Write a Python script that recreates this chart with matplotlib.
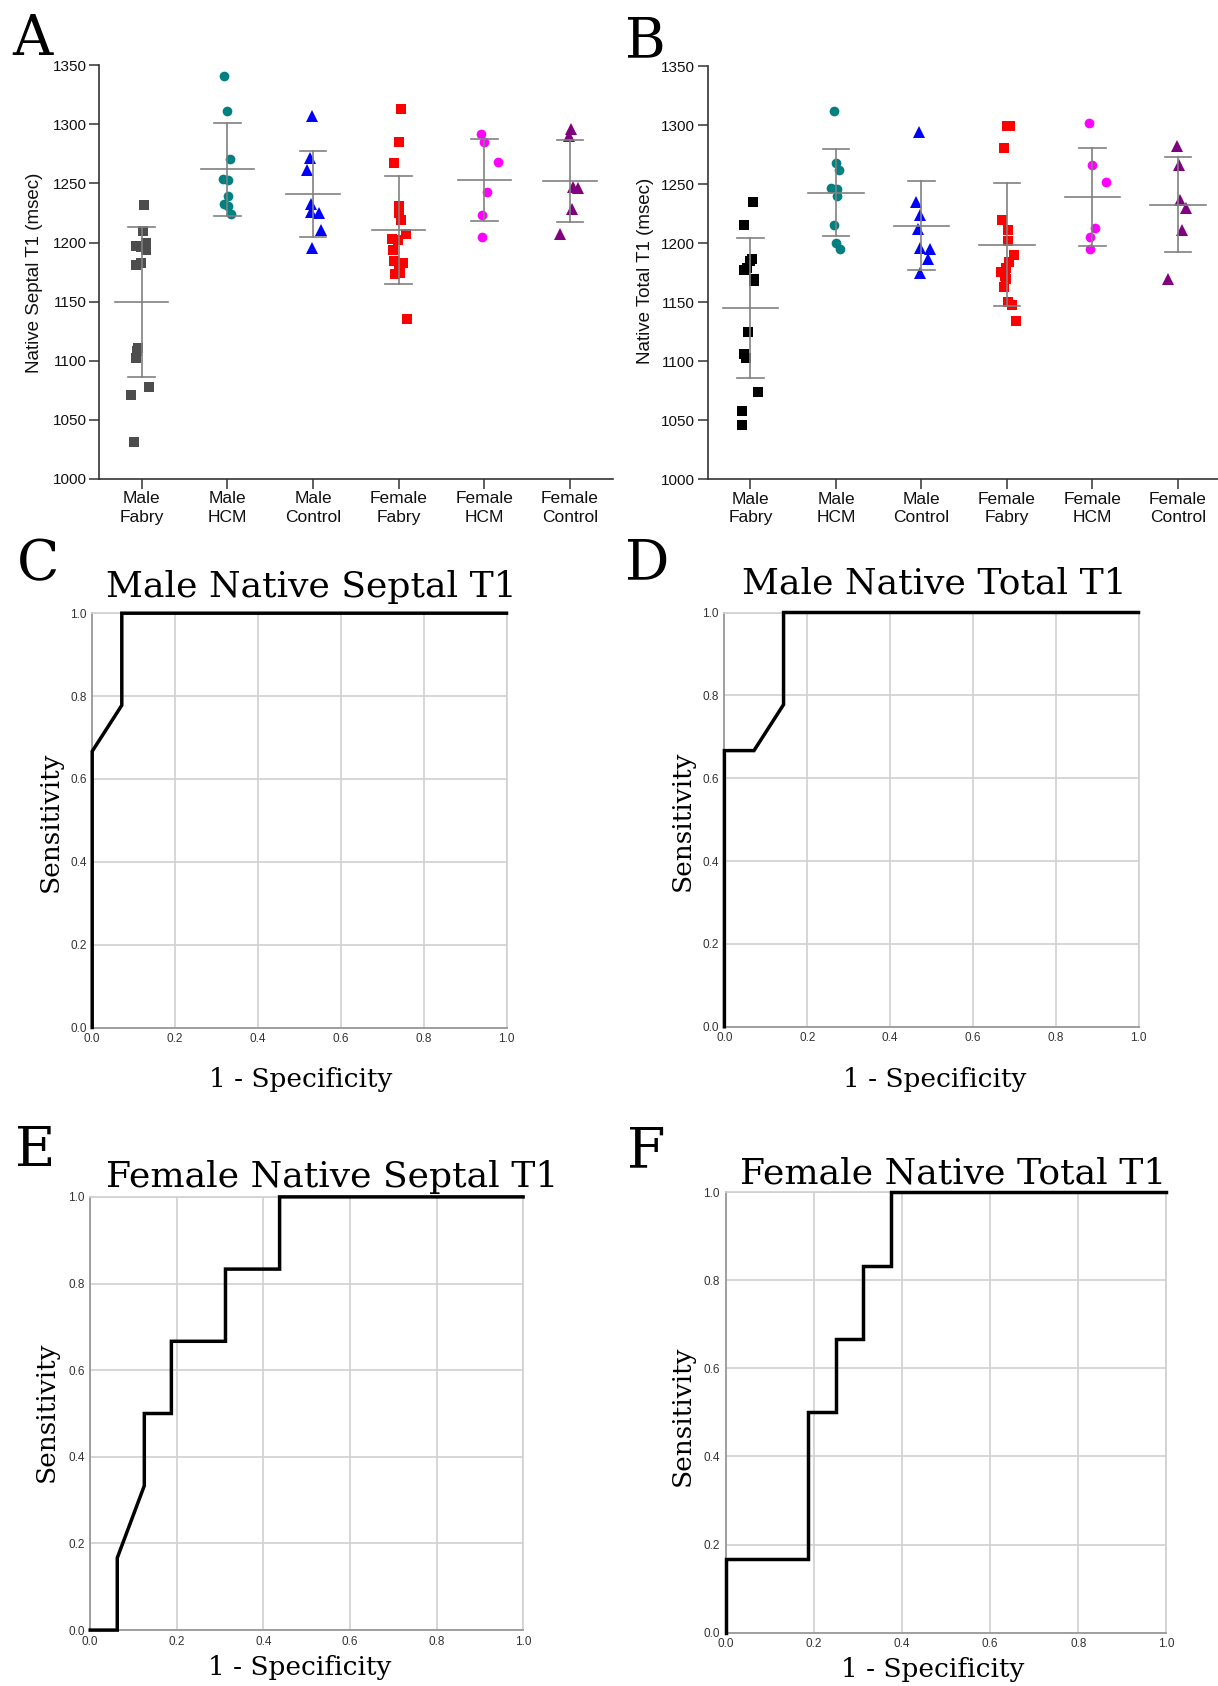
import numpy as np
import matplotlib
matplotlib.use("Agg")
import matplotlib.pyplot as plt

# ---------------- data ----------------
groups = ["Male\nFabry", "Male\nHCM", "Male\nControl", "Female\nFabry", "Female\nHCM", "Female\nControl"]

# Panel A: Native Septal T1 (msec)
septal_male_fabry = [1232, 1210, 1200, 1197, 1196, 1194, 1183, 1181, 1111, 1108, 1102, 1078, 1071, 1031]
septal_male_hcm = [1341, 1311, 1271, 1254, 1253, 1239, 1233, 1231, 1224]
septal_male_control = [1307, 1272, 1261, 1233, 1226, 1225, 1211, 1195]
septal_female_fabry = [1313, 1285, 1267, 1231, 1225, 1219, 1207, 1203, 1202, 1194, 1184, 1183, 1176, 1174, 1173, 1135]
septal_female_hcm = [1292, 1285, 1268, 1243, 1223, 1205]
septal_female_control = [1296, 1290, 1247, 1246, 1228, 1207]

# horizontal scatter offsets (category units)
jit_septal_male_fabry = [0.03, 0.01, 0.05, -0.07, -0.01, 0.05, -0.01, -0.07, -0.04, -0.06, -0.07, 0.08, -0.12, -0.09]
jit_septal_male_hcm = [-0.035, 0.0, 0.035, -0.05, 0.01, 0.01, -0.035, 0.01, 0.04]
jit_septal_male_control = [-0.01, -0.03, -0.065, -0.02, -0.02, 0.075, 0.09, -0.01]
jit_septal_female_fabry = [0.023, 0.0, -0.055, 0.0, 0.0, 0.028, 0.082, -0.077, -0.012, -0.07, -0.05, 0.047, 0.0, 0.01, -0.039, 0.094]
jit_septal_female_hcm = [-0.04, 0.0, 0.16, 0.037, -0.023, -0.028]
jit_septal_female_control = [0.014, -0.014, 0.03, 0.09, 0.023, -0.12]

# Panel B: Native Total T1 (msec)
total_male_fabry = [1235, 1215, 1187, 1185, 1179, 1177, 1170, 1168, 1125, 1106, 1103, 1074, 1058, 1046]
total_male_hcm = [1312, 1268, 1262, 1247, 1246, 1240, 1215, 1200, 1195]
total_male_control = [1294, 1235, 1224, 1212, 1196, 1195, 1187, 1175]
total_female_fabry = [1299, 1299, 1281, 1220, 1211, 1202, 1190, 1184, 1179, 1176, 1172, 1170, 1163, 1150, 1148, 1134]
total_female_hcm = [1302, 1266, 1252, 1213, 1205, 1195]
total_female_control = [1282, 1266, 1237, 1230, 1211, 1170]

jit_total_male_fabry = [0.032, -0.077, 0.018, 0.0, -0.036, -0.073, 0.04, 0.045, -0.027, -0.073, -0.05, 0.086, -0.104, -0.1]
jit_total_male_hcm = [-0.027, 0.005, 0.036, -0.054, 0.014, 0.009, -0.027, 0.005, 0.045]
jit_total_male_control = [-0.023, -0.063, -0.018, -0.036, -0.018, 0.095, 0.073, -0.018]
jit_total_female_fabry = [0.0, 0.036, -0.036, -0.054, 0.012, 0.012, 0.082, 0.023, -0.015, -0.065, -0.02, -0.015, -0.04, 0.012, 0.058, 0.105]
jit_total_female_hcm = [-0.045, 0.0, 0.16, 0.027, -0.027, -0.023]
jit_total_female_control = [-0.014, 0.018, 0.027, 0.095, 0.045, -0.113]

# ROC curves (1 - specificity, sensitivity)
roc_c_fpr = [0.0, 0.0, 1/14, 1/14, 1.0]
roc_c_tpr = [0.0, 6/9, 7/9, 1.0, 1.0]
roc_d_fpr = [0.0, 0.0, 1/14, 2/14, 2/14, 1.0]
roc_d_tpr = [0.0, 6/9, 6/9, 7/9, 1.0, 1.0]
roc_e_fpr = [0.0, 1/16, 1/16, 2/16, 2/16, 3/16, 3/16, 5/16, 5/16, 7/16, 7/16, 1.0]
roc_e_tpr = [0.0, 0.0, 1/6, 2/6, 3/6, 3/6, 4/6, 4/6, 5/6, 5/6, 1.0, 1.0]
roc_f_fpr = [0.0, 0.0, 3/16, 3/16, 4/16, 4/16, 5/16, 5/16, 6/16, 6/16, 1.0]
roc_f_tpr = [0.0, 1/6, 1/6, 3/6, 3/6, 4/6, 4/6, 5/6, 5/6, 1.0, 1.0]

roc_ticks = [0.0, 0.2, 0.4, 0.6, 0.8, 1.0]
t1_ticks = [1000, 1050, 1100, 1150, 1200, 1250, 1300, 1350]

# ---------------- figure ----------------
W, H = 1218, 1686
fig = plt.figure(figsize=(W / 100, H / 100), dpi=100)


def fx(px):
    return px / W


def fy(py):
    return 1 - py / H


SANS = "Liberation Sans"
SERIF = "DejaVu Serif"
markers = ["s", "o", "^", "s", "o", "^"]
msizes = {"s": 7.0, "o": 7.0, "^": 8.0}


def scatter_panel(rect, values, jitters, colors, xmax, mean_hw, cap_hw):
    ax = fig.add_axes(rect)
    for i, (vals, jit) in enumerate(zip(values, jitters)):
        v = np.asarray(vals, float)
        x = i + np.asarray(jit, float)
        mk = markers[i]
        ax.plot(x, v, linestyle="none", marker=mk, ms=msizes[mk], color=colors[i],
                mew=0, zorder=2, clip_on=False)
        m = v.mean()
        s = v.std(ddof=1)
        gc = "#808080"
        ax.plot([i - mean_hw, i + mean_hw], [m, m], color=gc, lw=1.2, zorder=3, clip_on=False)
        ax.plot([i, i], [m - s, m + s], color=gc, lw=1.2, zorder=3)
        ax.plot([i - cap_hw, i + cap_hw], [m + s, m + s], color=gc, lw=1.2, zorder=3)
        ax.plot([i - cap_hw, i + cap_hw], [m - s, m - s], color=gc, lw=1.2, zorder=3)
    ax.set_xlim(-0.5, xmax)
    ax.set_ylim(1000, 1350)
    ax.set_yticks(t1_ticks)
    ax.set_yticklabels([str(t) for t in t1_ticks], fontsize=11, family=SANS, color="#111111")
    ax.set_xticks(range(len(groups)))
    ax.set_xticklabels(groups, fontsize=12.5, family=SANS, color="#111111", linespacing=1.3)
    ax.tick_params(axis="both", direction="out", length=7, width=1.1, color="#333333", pad=2)
    for sp in ["top", "right"]:
        ax.spines[sp].set_visible(False)
    for sp in ["left", "bottom"]:
        ax.spines[sp].set_color("#333333")
        ax.spines[sp].set_linewidth(1.2)
    ax.set_facecolor("none")
    return ax


colors_a = ["#4d4d4d", "#008080", "#0000ff", "#ff0000", "#ff00ff", "#800080"]
colors_b = ["#000000", "#008080", "#0000ff", "#ff0000", "#ff00ff", "#800080"]

scatter_panel([fx(98.9), fy(478.7), fx(612.8 - 98.9), (478.7 - 65.4) / H],
              [septal_male_fabry, septal_male_hcm, septal_male_control,
               septal_female_fabry, septal_female_hcm, septal_female_control],
              [jit_septal_male_fabry, jit_septal_male_hcm, jit_septal_male_control,
               jit_septal_female_fabry, jit_septal_female_hcm, jit_septal_female_control],
              colors_a, 5.5, 0.31, 0.157)
fig.text(fx(35), fy(273), "Native Septal T1 (msec)", rotation=90, ha="center", va="center",
         fontsize=13.5, family=SANS, color="#111111")

scatter_panel([fx(707.7), fy(479.3), fx(1219 - 707.7), (479.3 - 66.1) / H],
              [total_male_fabry, total_male_hcm, total_male_control,
               total_female_fabry, total_female_hcm, total_female_control],
              [jit_total_male_fabry, jit_total_male_hcm, jit_total_male_control,
               jit_total_female_fabry, jit_total_female_hcm, jit_total_female_control],
              colors_b, 5.48, 0.325, 0.154)
fig.text(fx(645), fy(271), "Native Total T1 (msec)", rotation=90, ha="center", va="center",
         fontsize=13.5, family=SANS, color="#111111")


def roc_panel(left, top, right, bottom, fpr, tpr, title, title_xy, ylab_xy, xlab_xy):
    ax = fig.add_axes([fx(left), fy(bottom), fx(right - left), (bottom - top) / H])
    ax.set_xlim(0, 1)
    ax.set_ylim(0, 1)
    ax.set_xticks(roc_ticks)
    ax.set_yticks(roc_ticks)
    ax.set_xticklabels([f"{t:.1f}" for t in roc_ticks], fontsize=8.5, family=SANS, color="#333333")
    ax.set_yticklabels([f"{t:.1f}" for t in roc_ticks], fontsize=8.5, family=SANS, color="#333333")
    ax.tick_params(axis="both", length=0, pad=4)
    ax.grid(True, color="#d0d0d0", lw=1.2, zorder=0)
    ax.set_axisbelow(True)
    for sp in ["top", "right"]:
        ax.spines[sp].set_color("#d0d0d0")
        ax.spines[sp].set_linewidth(1.2)
    for sp in ["left", "bottom"]:
        ax.spines[sp].set_color("#999999")
        ax.spines[sp].set_linewidth(1.3)
    ax.plot(fpr, tpr, color="black", lw=2.5, clip_on=False, zorder=5, solid_joinstyle="miter")
    fig.text(fx(title_xy[0]), fy(title_xy[1]), title, ha="center", va="baseline",
             fontsize=26, family=SERIF, color="black")
    fig.text(fx(ylab_xy[0]), fy(ylab_xy[1]), "Sensitivity", rotation=90, ha="center", va="center",
             fontsize=19, family=SERIF, color="black")
    fig.text(fx(xlab_xy[0]), fy(xlab_xy[1]), "1 - Specificity", ha="center", va="center",
             fontsize=19, family=SERIF, color="black")
    return ax


roc_panel(92.2, 613.2, 506.5, 1027.5, roc_c_fpr, roc_c_tpr, "Male Native Septal T1",
          (311, 597), (50, 822), (300.5, 1079))
roc_panel(724.4, 612.5, 1138.5, 1026.8, roc_d_fpr, roc_d_tpr, "Male Native Total T1",
          (934, 593.6), (682, 821), (935, 1080))
roc_panel(90.2, 1196.9, 523.1, 1630.1, roc_e_fpr, roc_e_tpr, "Female Native Septal T1",
          (332, 1186.8), (46.5, 1412), (299.5, 1668))
roc_panel(725.5, 1192.2, 1166.4, 1632.6, roc_f_fpr, roc_f_tpr, "Female Native Total T1",
          (953, 1183.2), (682, 1416), (933, 1670))

# panel letters
for letter, (x, y) in {"A": (12, 55), "B": (625, 57), "C": (17, 580), "D": (625, 579),
                       "E": (15, 1167), "F": (627, 1167)}.items():
    fig.text(fx(x), fy(y), letter, ha="left", va="baseline", fontsize=40, family=SERIF, color="black")

fig.savefig("out.png", dpi=100, facecolor="white")
